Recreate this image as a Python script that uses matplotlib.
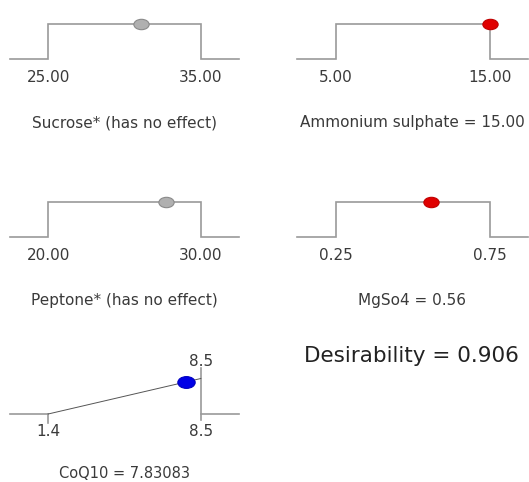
import numpy as np
import matplotlib
matplotlib.use("Agg")
import matplotlib.pyplot as plt
from matplotlib.path import Path

# ---- data ----
factor_titles = ["Sucrose* (has no effect)", "Ammonium sulphate = 15.00",
                 "Peptone* (has no effect)", "MgSo4 = 0.56"]
factor_lows = [25.0, 5.0, 20.0, 0.25]
factor_highs = [35.0, 15.0, 30.0, 0.75]
factor_values = [31.1, 15.0, 27.7, 0.56]
factor_has_effect = [False, True, False, True]

response_title = "CoQ10 = 7.83083"
response_low = 1.4
response_high = 8.5
response_value = 7.83083
desirability = 0.906

# ---- figure ----
W, H = 529, 482
fig = plt.figure(figsize=(W / 100, H / 100), dpi=100)
plt.rcParams['font.family'] = ['DejaVu Sans']

PX = 0.72  # points per pixel
line_col = '#9a9a9a'
text_col = '#3a3a3a'

# ellipse marker
circ = Path.unit_circle()
ell = Path(circ.vertices * np.array([1.0, 0.68]), circ.codes)

col_left = [10, 297]
col_width = [229, 231]
row_base = [59, 237, 414]
panel_h = 35.5


def make_ax(r, c):
    left = col_left[c] / W
    bottom = (H - row_base[r]) / H
    ax = fig.add_axes([left, bottom, col_width[c] / W, panel_h / H])
    ax.set_ylim(0, 1)
    ax.axis('off')
    return ax


positions = [(0, 0), (0, 1), (1, 0), (1, 1)]
for i, (r, c) in enumerate(positions):
    ax = make_ax(r, c)
    lo, hi = factor_lows[i], factor_highs[i]
    rng = hi - lo
    ax.set_xlim(lo - 0.25 * rng, hi + 0.25 * rng)
    xs = [lo - 0.25 * rng, lo, lo, hi, hi, hi + 0.25 * rng]
    ys = [0, 0, 1, 1, 0, 0]
    ax.plot(xs, ys, color=line_col, lw=1.2, clip_on=False, solid_joinstyle='miter')
    if factor_has_effect[i]:
        fc, ec = '#e00000', '#c00000'
    else:
        fc, ec = '#b0b0b0', '#8a8a8a'
    ax.plot([factor_values[i]], [1], marker=ell, ms=11, mfc=fc, mec=ec,
            mew=0.8, ls='none', clip_on=False, zorder=5)
    for v in (lo, hi):
        ax.annotate(f"{v:.2f}", xy=(v, 0), xycoords='data',
                    xytext=(0, -19 * PX), textcoords='offset points',
                    ha='center', va='center', fontsize=11, color=text_col)
    ax.annotate(factor_titles[i], xy=(0.5, 0), xycoords='axes fraction',
                xytext=(0, -64 * PX), textcoords='offset points',
                ha='center', va='center', fontsize=11, color=text_col)

# response ramp
ax = make_ax(2, 0)
lo, hi = response_low, response_high
rng = hi - lo
ax.set_xlim(lo - 0.25 * rng, hi + 0.25 * rng)
ax.plot([lo - 0.25 * rng, lo], [0, 0], color=line_col, lw=1.2, clip_on=False)
ax.plot([hi, hi + 0.25 * rng], [0, 0], color=line_col, lw=1.2, clip_on=False)
ax.plot([lo, lo], [0, -0.26], color=line_col, lw=1.2, clip_on=False)
ax.plot([hi, hi], [-0.17, 1.3], color=line_col, lw=1.2, clip_on=False)
ax.plot([lo, hi], [0, 1], color='#555555', lw=0.7, clip_on=False)
ax.plot([response_value], [desirability], marker=ell, ms=12.5,
        mfc='#0000e6', mec='#0000c0', mew=0.8, ls='none', clip_on=False, zorder=5)
ax.annotate(f"{lo:.1f}", xy=(lo, 0), xytext=(0, -18 * PX), textcoords='offset points',
            ha='center', va='center', fontsize=11, color=text_col)
ax.annotate(f"{hi:.1f}", xy=(hi, 0), xytext=(0, -18 * PX), textcoords='offset points',
            ha='center', va='center', fontsize=11, color=text_col)
ax.annotate(f"{hi:.1f}", xy=(hi, 1), xytext=(0, 17 * PX), textcoords='offset points',
            ha='center', va='center', fontsize=11, color=text_col)
ax.annotate(response_title, xy=(0.5, 0), xycoords='axes fraction',
            xytext=(0, -59 * PX), textcoords='offset points',
            ha='center', va='center', fontsize=10.5, color=text_col)

fig.text(411 / W, 1 - 356 / H, f"Desirability = {desirability:.3f}",
         ha='center', va='center', fontsize=15.5, color='#222222')

fig.savefig("out.png", dpi=100)
